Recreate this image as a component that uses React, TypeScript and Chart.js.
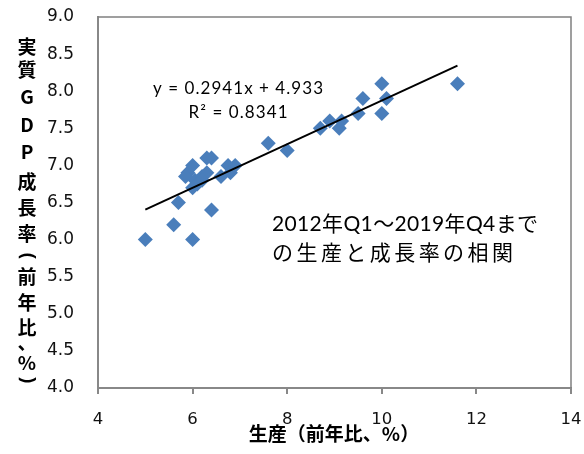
import React, { useEffect, useRef } from "react";
import { Chart, registerables } from "chart.js";

Chart.register(...registerables);

// 生産（前年比、%） for each quarter 2012Q1–2019Q4
const productionGrowth = [
  5.0, 5.6, 5.7, 6.0, 6.4, 6.0, 5.9, 6.0, 5.85, 6.05, 6.3, 6.4, 6.2, 6.3, 6.1, 6.6,
  6.75, 6.9, 6.8, 6.2, 7.6, 8.0, 8.7, 8.9, 9.1, 9.15, 9.5, 9.6, 10.0, 10.0, 10.1, 11.6,
];
// 実質GDP成長率（前年比、%）
const gdpGrowth = [
  6.0, 6.2, 6.5, 6.0, 6.4, 6.7, 6.9, 7.0, 6.85, 6.8, 7.1, 7.1, 6.85, 6.9, 6.75, 6.85,
  7.0, 7.0, 6.9, 6.8, 7.3, 7.2, 7.5, 7.6, 7.5, 7.6, 7.7, 7.9, 8.1, 7.7, 7.9, 8.1,
];

const TREND_SLOPE = 0.2941;
const TREND_INTERCEPT = 4.933;
const equationText = "y = 0.2941x + 4.933";
const r2Text = "R² = 0.8341";
const noteLines = ["2012年Q1～2019年Q4まで", "の生産と成長率の相関"];
const yTitleChars = ["実", "質", "G", "D", "P", "成", "長", "率", "(", "前", "年", "比", "、", "%", ")"];
const xTitle = "生産（前年比、%）";

const X_MIN = 4, X_MAX = 14, X_STEP = 2;
const Y_MIN = 4, Y_MAX = 9, Y_STEP = 0.5;

// layout (styles only)
const Y_TITLE_POS = [47, 70, 97, 125, 152, 182, 208, 234, 256, 277, 303, 328, 343, 363, 380];

function fitText(ctx: CanvasRenderingContext2D, text: string, x: number, y: number, width: number) {
  (ctx as any).letterSpacing = "0px";
  const w = ctx.measureText(text).width;
  const n = Array.from(text).length;
  const ls = n > 1 ? (width - w) / (n - 1) : 0;
  (ctx as any).letterSpacing = ls + "px";
  ctx.fillText(text, x, y);
  (ctx as any).letterSpacing = "0px";
}

const annotationPlugin = {
  id: "annotations",
  afterDraw(chart: any) {
    const ctx: CanvasRenderingContext2D = chart.ctx;
    const a = chart.chartArea;
    ctx.save();
    // plot border (top/right)
    ctx.strokeStyle = "#808080";
    ctx.lineWidth = 1.5;
    ctx.beginPath();
    ctx.moveTo(a.left, a.top);
    ctx.lineTo(a.right, a.top);
    ctx.lineTo(a.right, a.bottom);
    ctx.stroke();

    ctx.fillStyle = "#000";
    ctx.textBaseline = "middle";
    ctx.textAlign = "left";
    // equation (centred at x=238)
    ctx.font = "17px Lato";
    fitText(ctx, equationText, 238 - 85, 89, 170);
    fitText(ctx, r2Text, 238 - 49.5, 113, 99);

    // note
    ctx.font = "21px Lato, 'Noto Sans CJK JP'";
    fitText(ctx, noteLines[0], 272, 224, 266);
    fitText(ctx, noteLines[1], 272, 253, 241);

    // y title, stacked upright (parentheses rotated as in vertical writing)
    ctx.textAlign = "center";
    ctx.font = "bold 19px 'Noto Sans CJK JP'";
    yTitleChars.forEach((c, i) => {
      if (c === "(" || c === ")") {
        ctx.save();
        ctx.translate(27, Y_TITLE_POS[i]);
        ctx.rotate(Math.PI / 2);
        ctx.font = "bold 19px 'Noto Sans'";
        ctx.fillText(c, 0, 0);
        ctx.restore();
      } else {
        ctx.fillText(c, 27, Y_TITLE_POS[i]);
      }
    });

    // x title
    ctx.font = "bold 19px 'Noto Sans CJK JP'";
    ctx.fillText(xTitle, 334, 434);
    ctx.restore();
  },
};

export default function App() {
  const ref = useRef<HTMLCanvasElement | null>(null);
  useEffect(() => {
    if (!ref.current) return;
    const points = productionGrowth.map((x, i) => ({ x, y: gdpGrowth[i] }));
    const x0 = Math.min(...productionGrowth);
    const x1 = Math.max(...productionGrowth);
    const trend = [
      { x: x0, y: TREND_SLOPE * x0 + TREND_INTERCEPT },
      { x: x1, y: TREND_SLOPE * x1 + TREND_INTERCEPT },
    ];
    const chart = new Chart(ref.current, {
      type: "scatter",
      data: {
        datasets: [
          {
            type: "line",
            data: trend,
            borderColor: "#000",
            borderWidth: 2,
            pointRadius: 0,
            showLine: true,
            fill: false,
            order: 0,
          } as any,
          {
            data: points,
            pointStyle: "rectRot",
            pointRadius: 7.5,
            pointBackgroundColor: "#4a7ebb",
            pointBorderColor: "#4a7ebb",
            pointBorderWidth: 0,
            order: 1,
          },
        ],
      },
      options: {
        animation: false,
        responsive: false,
        devicePixelRatio: 1,
        layout: { padding: { top: 17, right: 13, left: 0, bottom: 0 } },
        plugins: { legend: { display: false }, tooltip: { enabled: false } },
        scales: {
          x: {
            type: "linear",
            min: X_MIN,
            max: X_MAX,
            afterFit: (s: any) => {
              s.height = 66;
              s.paddingLeft = 0;
              s.paddingRight = 0;
            },
            ticks: {
              stepSize: X_STEP,
              color: "#111",
              font: { family: "'DejaVu Sans'", size: 16.5 },
              padding: 16,
              maxRotation: 0,
            },
            grid: { drawOnChartArea: false, drawTicks: true, tickLength: 6, color: "#888", lineWidth: 2 },
            border: { display: true, color: "#888", width: 2 },
          },
          y: {
            type: "linear",
            min: Y_MIN,
            max: Y_MAX,
            afterFit: (s: any) => {
              s.width = 98;
              s.paddingTop = 0;
              s.paddingBottom = 0;
            },
            ticks: {
              stepSize: Y_STEP,
              color: "#111",
              font: { family: "'DejaVu Sans'", size: 17 },
              padding: 24,
              callback: (v: any) => Number(v).toFixed(1),
            },
            grid: { drawOnChartArea: false, drawTicks: false, color: "#888" },
            border: { display: true, color: "#888", width: 2 },
          },
        },
      },
      plugins: [annotationPlugin],
    } as any);
    return () => chart.destroy();
  }, []);
  return (
    <div style={{ position: "absolute", left: 0, top: 0, width: 584, height: 454 }}>
      <canvas ref={ref} width={584} height={454} />
    </div>
  );
}
